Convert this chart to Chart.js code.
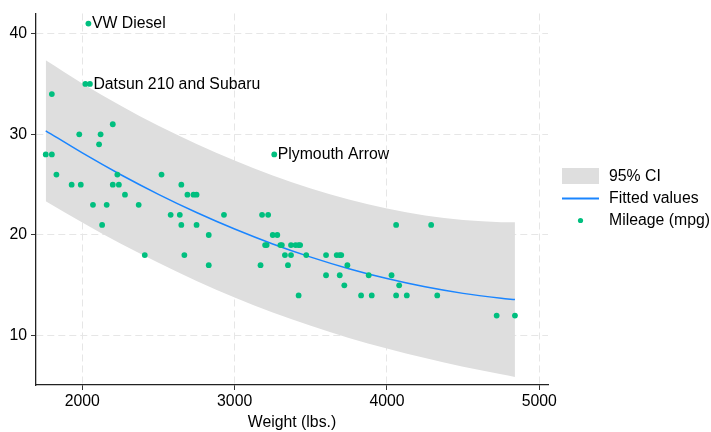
<!DOCTYPE html>
<html>
<head>
<meta charset="utf-8">
<script src="https://cdn.jsdelivr.net/npm/chart.js@4.4.1/dist/chart.umd.min.js"></script>
<style>
  body { margin: 0; background: #fff; }
</style>
</head>
<body>
<canvas id="autoChart" width="711" height="432"></canvas>
<script>
// Weight (lbs.) and mileage (mpg) of the 74 cars
const weight = [2930, 3350, 2640, 3250, 4080, 3670, 2230, 3280, 3880, 3400, 4330, 3900, 4290, 2110, 3690, 3180, 3220, 2750, 3430, 2120, 3600, 3600, 3740, 1800, 2650, 4840, 4720, 3830, 2580, 4060, 3720, 3370, 4130, 2830, 4060, 3310, 3300, 3690, 3370, 2730, 4030, 3260, 1800, 2200, 2520, 3330, 3700, 3470, 3210, 3200, 3420, 2690, 2830, 2070, 2650, 2370, 2020, 2280, 2750, 2240, 1760, 1980, 3420, 1830, 2050, 2410, 2200, 2670, 2160, 2040, 1930, 1990, 3170, 2130]
const mpg = [22, 17, 22, 20, 15, 18, 26, 20, 16, 19, 14, 14, 21, 29, 16, 22, 22, 24, 19, 30, 18, 16, 17, 28, 21, 12, 12, 14, 22, 14, 15, 18, 14, 20, 21, 19, 19, 18, 19, 24, 16, 28, 34, 25, 26, 18, 18, 18, 19, 19, 19, 24, 17, 23, 25, 23, 35, 24, 21, 25, 28, 30, 14, 26, 35, 18, 31, 18, 23, 41, 25, 25, 17, 21]

// Labelled cars
const labelNames = ['VW Diesel', 'Datsun 210 and Subaru', 'Plymouth Arrow']
const labelWeight = [2040, 2050, 3260]
const labelMpg = [41, 35, 28]

// Fitted values and 95% CI band
const fitWeight = [1760, 2000, 2250, 2500, 2750, 3000, 3250, 3500, 3750, 4000, 4250, 4500, 4750, 4840]
const fitValues = [30.35, 28.15, 26.01, 24.04, 22.23, 20.59, 19.11, 17.80, 16.65, 15.67, 14.85, 14.20, 13.72, 13.58]
const ciUpper = [37.35, 35.05, 32.86, 30.84, 29.03, 27.39, 25.91, 24.62, 23.52, 22.62, 21.93, 21.48, 21.27, 21.26]
const ciLower = [23.35, 21.25, 19.16, 17.24, 15.43, 13.79, 12.31, 10.98, 9.78, 8.72, 7.77, 6.92, 6.17, 5.90]

const xTicks = [2000, 3000, 4000, 5000]
const yTicks = [10, 20, 30, 40]

const green = '#00bf7f'
const blue = '#1a85ff'
const bandGray = '#dedede'
const fontFamily = '"Liberation Sans", Arial, sans-serif'
const fontSize = 15.8

Chart.defaults.font.family = fontFamily
Chart.defaults.font.size = fontSize
Chart.defaults.color = '#000'

const toPoints = (xs, ys) => xs.map((x, i) => ({ x: x, y: ys[i] }))

//  Names next to the labelled points
const pointLabels = {
  id: 'pointLabels',
  afterDatasetsDraw (chart) {
    const ctx = chart.ctx
    const xs = chart.scales.x
    const ys = chart.scales.y
    ctx.save()
    ctx.font = `${fontSize}px ${fontFamily}`
    ctx.fillStyle = '#000'
    ctx.textAlign = 'left'
    ctx.textBaseline = 'middle'
    labelNames.forEach((name, i) => {
      ctx.fillText(name, xs.getPixelForValue(labelWeight[i]) + 3.5, ys.getPixelForValue(labelMpg[i]) + 0.5)
    })
    ctx.restore()
  }
}

//  Legend on the right, Stata style
const sideLegend = {
  id: 'sideLegend',
  afterDraw (chart) {
    const ctx = chart.ctx
    ctx.save()
    ctx.fillStyle = bandGray
    ctx.fillRect(562, 168, 37, 16)
    ctx.strokeStyle = blue
    ctx.lineWidth = 2
    ctx.beginPath()
    ctx.moveTo(562, 198.5)
    ctx.lineTo(599, 198.5)
    ctx.stroke()
    ctx.fillStyle = green
    ctx.beginPath()
    ctx.arc(580.5, 220.5, 2.6, 0, Math.PI * 2)
    ctx.fill()
    ctx.font = `${fontSize}px ${fontFamily}`
    ctx.fillStyle = '#000'
    ctx.textBaseline = 'middle'
    ctx.fillText('95% CI', 609, 176.5)
    ctx.fillText('Fitted values', 609, 199)
    ctx.fillText('Mileage (mpg)', 609, 221)
    ctx.restore()
  }
}

new Chart(document.getElementById('autoChart'), {
  type: 'line',
  data: {
    datasets: [
      {
        type: 'scatter',
        label: 'Mileage (mpg)',
        data: toPoints(weight, mpg),
        backgroundColor: green,
        borderWidth: 0,
        pointRadius: 2.9,
        order: 1
      },
      {
        label: 'Fitted values',
        data: toPoints(fitWeight, fitValues),
        borderColor: blue,
        borderWidth: 1.5,
        pointRadius: 0,
        cubicInterpolationMode: 'monotone',
        fill: false,
        order: 2
      },
      {
        label: '95% CI',
        data: toPoints(fitWeight, ciUpper),
        borderWidth: 0,
        pointRadius: 0,
        backgroundColor: bandGray,
        cubicInterpolationMode: 'monotone',
        fill: '+1',
        order: 3
      },
      {
        label: 'lower',
        data: toPoints(fitWeight, ciLower),
        borderWidth: 0,
        pointRadius: 0,
        cubicInterpolationMode: 'monotone',
        fill: false,
        order: 3
      }
    ]
  },
  options: {
    responsive: false,
    animation: false,
    layout: { padding: { top: 10, right: 163, left: 0, bottom: 0 } },
    plugins: {
      legend: { display: false },
      tooltip: { enabled: false }
    },
    scales: {
      x: {
        type: 'linear',
        min: 1696,
        max: 5057,
        afterBuildTicks: (scale) => { scale.ticks = xTicks.map(v => ({ value: v })) },
        afterFit: (scale) => { scale.height = 47 },
        ticks: { padding: 2, maxRotation: 0, callback: (v) => v },
        grid: { color: '#e6e6e6', tickLength: 5, tickColor: '#333', tickWidth: 1 },
        border: { color: '#222', width: 1.3, dash: [7, 4] },
        title: { display: true, text: 'Weight (lbs.)', padding: { top: 0, bottom: 0 } }
      },
      y: {
        min: 5.1,
        max: 42,
        afterBuildTicks: (scale) => { scale.ticks = yTicks.map(v => ({ value: v })) },
        afterFit: (scale) => { scale.width = 36 },
        ticks: { padding: 4 },
        grid: { color: '#e6e6e6', tickLength: 5, tickColor: '#333', tickWidth: 1 },
        border: { color: '#222', width: 1.3, dash: [7, 4] }
      }
    }
  },
  plugins: [pointLabels, sideLegend]
})
</script>
</body>
</html>
